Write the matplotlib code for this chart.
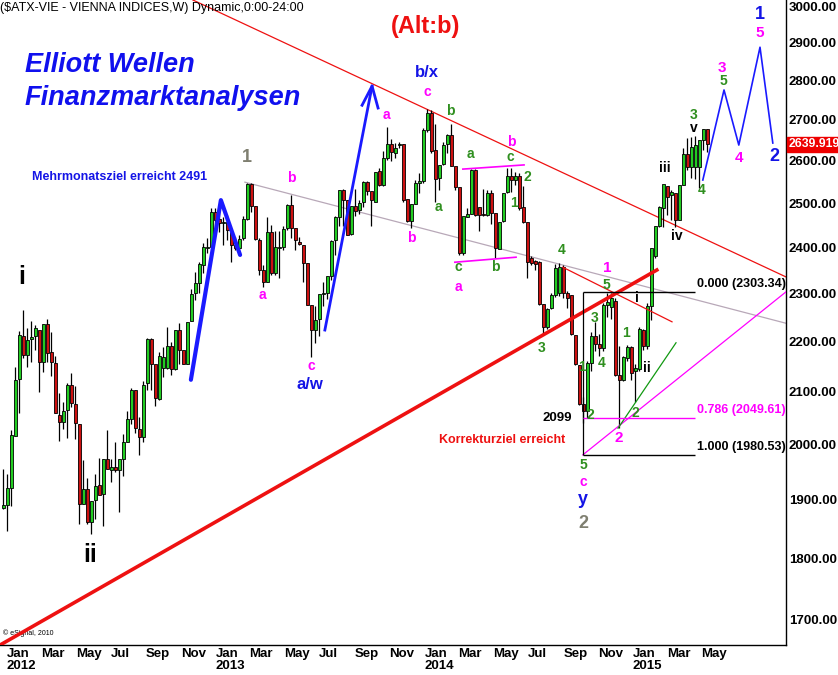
import numpy as np
import pandas as pd
import matplotlib
matplotlib.use('Agg')
import matplotlib.pyplot as plt
import matplotlib.dates as mdates
from matplotlib.ticker import FixedLocator, FixedFormatter, NullLocator
from matplotlib.transforms import blended_transform_factory

plt.rcParams['font.family'] = ['Liberation Sans', 'DejaVu Sans']

# weekly ATX bars
first_week = '2011-12-26'
opens = [1886,1890,1921,2016,2124,2211,2173,2204,2210,2222,
         2159,2236,2177,2156,2055,2041,2065,2113,2076,2037,
         1892,1918,1861,1900,1925,1910,1973,1953,1957,1953,
         1973,2005,2048,2103,2028,2014,2116,2205,2153,2086,
         2147,2147,2189,2145,2222,2181,2155,2241,2300,2322,
         2362,2399,2400,2480,2464,2455,2457,2434,2405,2398,
         2420,2464,2543,2494,2416,2350,2323,2434,2343,2399,
         2400,2443,2495,2443,2412,2404,2365,2275,2224,2245,
         2298,2300,2338,2417,2468,2531,2507,2429,2493,2484,
         2503,2549,2527,2503,2575,2543,2606,2639,2619,2637,
         2641,2510,2459,2499,2548,2552,2675,2718,2626,2559,
         2593,2640,2661,2586,2536,2387,2469,2474,2578,2490,
         2475,2473,2522,2477,2396,2459,2526,2564,2553,2562,
         2490,2457,2375,2370,2368,2277,2229,2268,2297,2300,
         2356,2300,2296,2213,2152,2076,2062,2156,2211,2194,
         2187,2275,2270,2283,2132,2122,2167,2188,2140,2145,
         2222,2190,2272,2380,2448,2488,2539,2519,2522,2462,
         2542,2617,2586,2585,2586,2650,2677]
highs = [1954,1946,2027,2149,2222,2264,2228,2242,2234,2222,
         2236,2246,2220,2171,2097,2079,2117,2136,2111,2037,
         1971,1939,1898,1946,1975,1973,2026,1973,2005,1973,
         2020,2063,2106,2103,2051,2120,2206,2206,2153,2178,
         2189,2229,2199,2224,2237,2181,2239,2308,2345,2368,
         2409,2420,2488,2488,2484,2468,2472,2434,2423,2427,
         2470,2546,2546,2494,2420,2361,2467,2450,2437,2436,
         2448,2498,2518,2443,2423,2404,2365,2275,2272,2298,
         2324,2337,2416,2471,2531,2533,2507,2493,2534,2507,
         2552,2552,2527,2573,2582,2623,2682,2652,2642,2646,
         2641,2510,2497,2554,2570,2679,2727,2725,2691,2589,
         2646,2666,2691,2586,2536,2469,2488,2580,2580,2492,
         2534,2530,2530,2477,2457,2524,2582,2582,2574,2571,
         2540,2457,2380,2372,2370,2277,2268,2300,2364,2365,
         2360,2305,2296,2213,2152,2090,2160,2220,2240,2215,
         2280,2300,2300,2290,2190,2170,2193,2190,2155,2230,
         2225,2280,2398,2448,2494,2543,2540,2531,2522,2542,
         2631,2655,2659,2660,2650,2677,2677]
lows = [1884,1845,1889,2016,2058,2166,2149,2159,2183,2100,
        2139,2159,2131,2058,2007,2029,2012,2071,2010,1858,
        1892,1858,1840,1866,1908,1855,1954,1932,1950,1879,
        1943,2005,2037,2021,1981,2005,2103,2103,2072,2084,
        2129,2145,2132,2143,2155,2154,2155,2241,2286,2301,
        2344,2388,2400,2442,2434,2405,2416,2368,2393,2393,
        2416,2462,2480,2416,2339,2314,2323,2340,2340,2332,
        2394,2439,2420,2394,2406,2323,2276,2169,2196,2210,
        2272,2287,2329,2383,2448,2447,2427,2428,2470,2476,
        2490,2518,2448,2503,2541,2539,2603,2600,2606,2630,
        2503,2457,2443,2498,2524,2548,2670,2618,2503,2530,
        2589,2618,2587,2530,2383,2383,2468,2474,2470,2437,
        2470,2470,2453,2376,2396,2457,2524,2526,2543,2484,
        2455,2332,2360,2350,2275,2213,2226,2266,2293,2295,
        2290,2268,2213,2153,2074,2040,2050,2140,2180,2170,
        2180,2250,2245,2130,2030,2120,2160,2123,2080,2140,
        2182,2185,2244,2377,2446,2446,2473,2462,2446,2461,
        2542,2578,2558,2556,2536,2626,2622]
closes = [1890,1921,2017,2123,2213,2172,2203,2209,2226,2159,
          2236,2177,2158,2058,2041,2062,2113,2077,2039,1892,
          1918,1861,1898,1924,1908,1973,1954,1958,1953,1973,
          2004,2046,2103,2030,2014,2113,2205,2155,2087,2169,
          2167,2189,2145,2222,2183,2155,2239,2298,2321,2362,
          2400,2400,2480,2462,2455,2457,2438,2405,2398,2417,
          2462,2543,2494,2418,2350,2325,2434,2343,2400,2401,
          2440,2495,2443,2416,2408,2366,2276,2224,2244,2298,
          2300,2337,2414,2468,2530,2508,2427,2493,2483,2499,
          2549,2529,2507,2573,2543,2605,2639,2621,2630,2641,
          2507,2459,2497,2546,2552,2675,2718,2624,2557,2589,
          2638,2661,2587,2538,2387,2469,2474,2578,2472,2472,
          2473,2522,2477,2398,2457,2524,2564,2553,2563,2488,
          2457,2368,2366,2364,2277,2229,2266,2295,2354,2356,
          2300,2290,2215,2154,2076,2062,2156,2211,2194,2187,
          2275,2281,2290,2132,2122,2167,2188,2137,2145,2225,
          2190,2272,2398,2448,2491,2543,2515,2525,2462,2542,
          2617,2586,2634,2638,2650,2677,2639.919]

# fibonacci retracement levels
fib_levels = [2303.34, 2049.61, 1980.53]
fib_names = ['0.000 (2303.34)', '0.786 (2049.61)', '1.000 (1980.53)']
fib_colors = ['black', '#ff00ff', 'black']

# projected wave path (week offset, price)
proj_w = [174.9, 180.2, 183.9, 189.2, 192.4]
proj_p = [2554, 2776, 2638, 2888, 2643]

weeks = pd.date_range(first_week, periods=len(closes), freq='7D')
xd = mdates.date2num(weeks)


def wk(w):
    return mdates.date2num(weeks[0] + pd.Timedelta(days=7 * w))


fig = plt.figure(figsize=(8.38, 6.75), dpi=100)
ax = fig.add_axes([0, 30 / 675, 786 / 838, 645 / 675])
ax.set_yscale('log')
ax.set_xlim(wk(-0.83), wk(195.7))
ax.set_ylim(1661, 3017)

# candles
o = np.array(opens, float); c = np.array(closes, float)
h = np.array(highs, float); l = np.array(lows, float)
up = c >= o
ax.vlines(xd, l, h, color='black', lw=0.9, zorder=3)
ax.bar(xd, np.abs(c - o) + 0.5, bottom=np.minimum(o, c), width=5.2,
       color=np.where(up, '#22cc22', '#cc1111'), edgecolor='black',
       linewidth=0.6, zorder=4)

# trend lines
ax.plot([wk(47.4), wk(195.7)], [3017, 2335], color='#ee1111', lw=0.9, zorder=2)
ax.plot([wk(-0.8), wk(163.4)], [1661, 2350], color='#ee1111', lw=2.6, zorder=5)
ax.plot([wk(139.9), wk(167.2)], [2356, 2240], color='#ee1111', lw=0.9, zorder=5)
ax.plot([wk(60.4), wk(195.7)], [2549, 2237], color='#b8a8b8', lw=0.9, zorder=2)
ax.plot([wk(144.9), wk(195.7)], [1980.5, 2303], color='#ff00ff', lw=0.9, zorder=5)
ax.plot([wk(153.7), wk(168.2)], [2030, 2197], color='#119911', lw=0.9, zorder=5)
ax.plot([wk(114.9), wk(130.2)], [2580, 2590], color='#ff00ff', lw=1.2, zorder=5)
ax.plot([wk(112.9), wk(128.2)], [2367, 2378], color='#ff00ff', lw=1.2, zorder=5)

# fib tool
ax.vlines(wk(144.9), fib_levels[2], fib_levels[0], color='black', lw=0.9, zorder=5)
for lev, name, col in zip(fib_levels, fib_names, fib_colors):
    ax.hlines(lev, wk(144.9), wk(172.9), color=col, lw=1.0, zorder=5)
    ax.text(wk(173.4), lev * 1.002, name, color=col, fontsize=9, fontweight='bold',
            ha='left', va='bottom', clip_on=True, zorder=6)

# blue arrows
ax.plot([wk(46.9), wk(54.4), wk(59.2)], [2123, 2507, 2383], color='#1a1aff',
        lw=3.0, zorder=6, solid_capstyle='round')
ax.plot([wk(80.4), wk(92.2)], [2223, 2786], color='#1a1aff', lw=2.0, zorder=6)
ax.plot([wk(89.7), wk(92.2), wk(93.7)], [2737, 2786, 2730], color='#1a1aff', lw=2.0, zorder=6)
ax.plot([wk(w) for w in proj_w], proj_p, color='#1a1aff', lw=1.2, zorder=6)

# wave labels: text, week offset, price, colour, size
MAG, GRN, BLU, BLK, GRY = '#ff00ff', '#2f8f1f', '#1414e6', 'black', '#7f7f70'
labels = [
    ('i', 4.7, 2335, BLK, 18), ('ii', 21.7, 1805, BLK, 18),
    ('1', 60.9, 2609, GRY, 13), ('b', 71.9, 2559, MAG, 10), ('a', 64.7, 2296, MAG, 10),
    ('c', 76.9, 2150, MAG, 10), ('a/w', 76.7, 2113, BLU, 12), ('a', 95.7, 2712, MAG, 10),
    ('b/x', 105.9, 2820, BLU, 12), ('c', 105.9, 2771, MAG, 10), ('b', 111.7, 2722, GRN, 10),
    ('a', 108.7, 2491, GRN, 10), ('b', 101.9, 2421, MAG, 10), ('a', 116.9, 2616, GRN, 10),
    ('c', 113.7, 2356, GRN, 10), ('a', 113.7, 2313, MAG, 10), ('b', 122.9, 2356, GRN, 10),
    ('b', 126.9, 2645, MAG, 10), ('c', 126.7, 2609, GRN, 10), ('1', 127.7, 2500, GRN, 10),
    ('2', 130.9, 2561, GRN, 10), ('4', 139.7, 2394, GRN, 10), ('3', 134.7, 2186, GRN, 10),
    ('1', 150.9, 2354, MAG, 11), ('5', 150.9, 2318, GRN, 10), ('3', 147.9, 2248, GRN, 10),
    ('4', 149.7, 2156, GRN, 10), ('1', 144.7, 2148, GRN, 10), ('2', 146.7, 2055, GRN, 10),
    ('1', 155.7, 2217, GRN, 10), ('ii', 160.9, 2146, BLK, 10), ('i', 158.4, 2290, BLK, 10),
    ('2', 157.9, 2059, GRN, 10), ('2', 153.9, 2012, MAG, 11), ('2099', 138.4, 2049, BLK, 9.5),
    ('5', 145.0, 1962, GRN, 10), ('c', 145.0, 1931, MAG, 10), ('y', 145.0, 1901, BLU, 13),
    ('2', 145.0, 1859, GRY, 13), ('iii', 165.4, 2582, BLK, 10), ('iv', 168.4, 2425, BLK, 10),
    ('3', 172.7, 2712, GRN, 10), ('v', 172.7, 2680, BLK, 10), ('4', 174.7, 2530, GRN, 10),
    ('3', 179.7, 2833, MAG, 11), ('5', 180.0, 2799, GRN, 10), ('4', 183.9, 2606, MAG, 11),
    ('1', 189.2, 2978, BLU, 13), ('5', 189.2, 2926, MAG, 11), ('2', 192.9, 2611, BLU, 13),
]
for txt, w, p, col, fs in labels:
    ax.text(wk(w), p, txt, color=col, fontsize=fs, fontweight='bold',
            ha='center', va='center', zorder=7)

ax.text(wk(7.2), 2561, 'Mehrmonatsziel erreicht 2491', color=BLU, fontsize=9,
        fontweight='bold', ha='left', va='center', zorder=7)
ax.text(wk(124.7), 2008, 'Korrekturziel erreicht', color='#ee1111', fontsize=9,
        fontweight='bold', ha='center', va='center', zorder=7)

# headings
ax.text(0.0, 1 - 8 / 645, '($ATX-VIE - VIENNA INDICES,W) Dynamic,0:00-24:00',
        transform=ax.transAxes, fontsize=9, ha='left', va='center')
ax.text(426 / 786, 1 - 26 / 645, '(Alt:b)', transform=ax.transAxes, color='#ee1111',
        fontsize=17, fontweight='bold', ha='center', va='center')
ax.text(25 / 786, 1 - 65 / 645, 'Elliott Wellen', transform=ax.transAxes, color='#1010ee',
        fontsize=19.5, fontweight='bold', fontstyle='italic', ha='left', va='center')
ax.text(25 / 786, 1 - 98 / 645, 'Finanzmarktanalysen', transform=ax.transAxes,
        color='#1010ee', fontsize=19.5, fontweight='bold', fontstyle='italic',
        ha='left', va='center')
ax.text(3 / 786, 1 - 633 / 645, '\u00a9 eSignal, 2010', transform=ax.transAxes,
        fontsize=5, ha='left', va='center')

# last price box
trans = blended_transform_factory(ax.transAxes, ax.transData)
ax.text(1.003, closes[-1], f'{closes[-1]:.3f}', transform=trans, color='white',
        fontsize=8.8, fontweight='bold', ha='left', va='center', zorder=8,
        bbox=dict(boxstyle='square,pad=0.1', fc='#ee0000', ec='#ee0000'), clip_on=False)

# axes look
for s in ['left', 'top']:
    ax.spines[s].set_visible(False)
ax.spines['right'].set_linewidth(1.0)
ax.spines['bottom'].set_linewidth(1.0)

yt = np.arange(1700, 3001, 100)
ax.yaxis.tick_right()
ax.yaxis.set_major_locator(FixedLocator(yt))
ax.yaxis.set_major_formatter(FixedFormatter([f'{v:.2f}' for v in yt]))
ax.yaxis.set_minor_locator(NullLocator())
ax.tick_params(axis='y', length=0, pad=2, labelsize=9.5)
for t in ax.get_yticklabels():
    t.set_fontweight('bold')

months = pd.date_range('2012-01-01', '2015-05-01', freq='2MS')
ax.xaxis.set_major_locator(FixedLocator(mdates.date2num(months)))
ax.xaxis.set_major_formatter(FixedFormatter(
    [m.strftime('%b') + ('\n' + m.strftime('%Y') if m.month == 1 else '') for m in months]))
ax.xaxis.set_minor_locator(NullLocator())
ax.tick_params(axis='x', length=0, pad=2, labelsize=9.5)
for t in ax.get_xticklabels():
    t.set_fontweight('bold')
    t.set_horizontalalignment('left')
    t.set_family(['Liberation Sans Narrow', 'Liberation Sans', 'DejaVu Sans'])
    t.set_linespacing(1.05)

fig.savefig('out.png', dpi=100)
